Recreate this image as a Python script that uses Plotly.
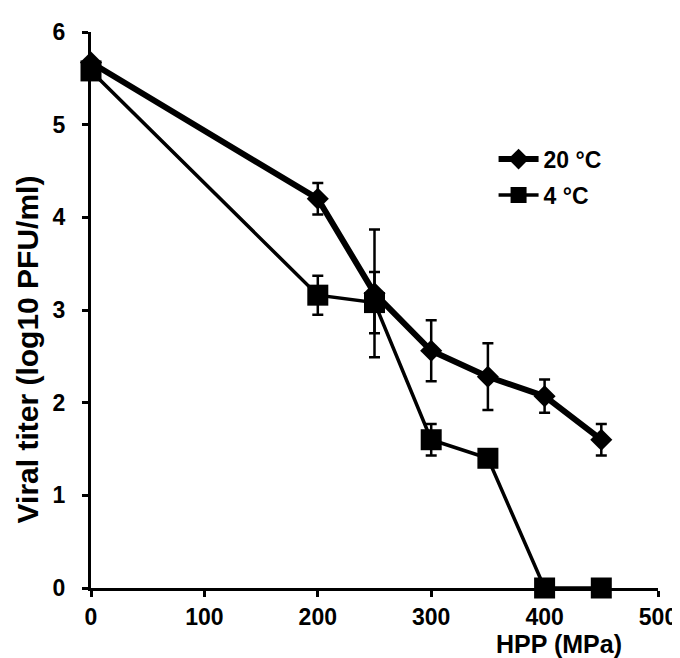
import plotly.graph_objects as go

pressure = [0, 200, 250, 300, 350, 400, 450]

titer_20 = [5.67, 4.20, 3.18, 2.56, 2.28, 2.07, 1.60]
err_20 = [0.0, 0.17, 0.69, 0.33, 0.36, 0.18, 0.17]

titer_4 = [5.58, 3.16, 3.08, 1.60, 1.40, 0.0, 0.0]
err_4 = [0.0, 0.21, 0.33, 0.17, 0.0, 0.0, 0.0]

series_names = ["20 °C", "4 °C"]
x_ticks = [0, 100, 200, 300, 400, 500]
y_ticks = [0, 1, 2, 3, 4, 5, 6]

FONT = "Liberation Sans, Arial, sans-serif"

fig = go.Figure()
fig.add_trace(go.Scatter(
    x=pressure, y=titer_20, name=series_names[0], mode="lines+markers",
    legendgroup="a",
    line=dict(color="black", width=6),
    marker=dict(symbol="diamond", size=17, color="black"),
    error_y=dict(type="data", array=err_20, visible=True, color="black", thickness=2.5, width=5.5),
    cliponaxis=False,
))
fig.add_trace(go.Scatter(
    x=pressure, y=titer_4, name=series_names[1], mode="lines+markers",
    legendgroup="b",
    line=dict(color="black", width=3.5),
    marker=dict(symbol="square", size=21, color="black"),
    error_y=dict(type="data", array=err_4, visible=True, color="black", thickness=2.5, width=5.5),
    cliponaxis=False,
))

axis_common = dict(
    showgrid=False, zeroline=False, showline=True, linecolor="black", linewidth=3,
    ticks="outside", ticklen=6, tickwidth=3, tickcolor="black",
    tickfont=dict(family=FONT, size=23, color="black", weight="bold"),
    layer="below traces", ticklabeloverflow="allow",
)

fig.update_layout(
    width=680, height=658,
    margin=dict(l=83, r=19, t=11, b=78),
    paper_bgcolor="white", plot_bgcolor="white",
    font=dict(family=FONT, color="black"),
    xaxis=dict(range=[0, 500], tickvals=x_ticks, ticklabelstandoff=0, **axis_common),
    yaxis=dict(range=[0, 6], tickvals=y_ticks, ticklabelstandoff=12, **axis_common),
    showlegend=True,
    legend=dict(
        x=0.71, y=0.81, xanchor="left", yanchor="top",
        bgcolor="rgba(0,0,0,0)", tracegroupgap=3,
        font=dict(family=FONT, size=23, color="black", weight="bold"),
        itemwidth=40,
    ),
    annotations=[
        dict(text="<b>HPP (MPa)</b>", xref="paper", yref="paper", x=0.825, y=-0.101,
             xanchor="center", yanchor="middle", showarrow=False,
             font=dict(family=FONT, size=25, color="black")),
        dict(text="<b>Viral titer (log10 PFU/ml)</b>", xref="paper", yref="paper", x=-0.112, y=0.43,
             xanchor="center", yanchor="middle", showarrow=False, textangle=-90,
             font=dict(family=FONT, size=30, color="black")),
    ],
)

fig.write_html("out.html")
